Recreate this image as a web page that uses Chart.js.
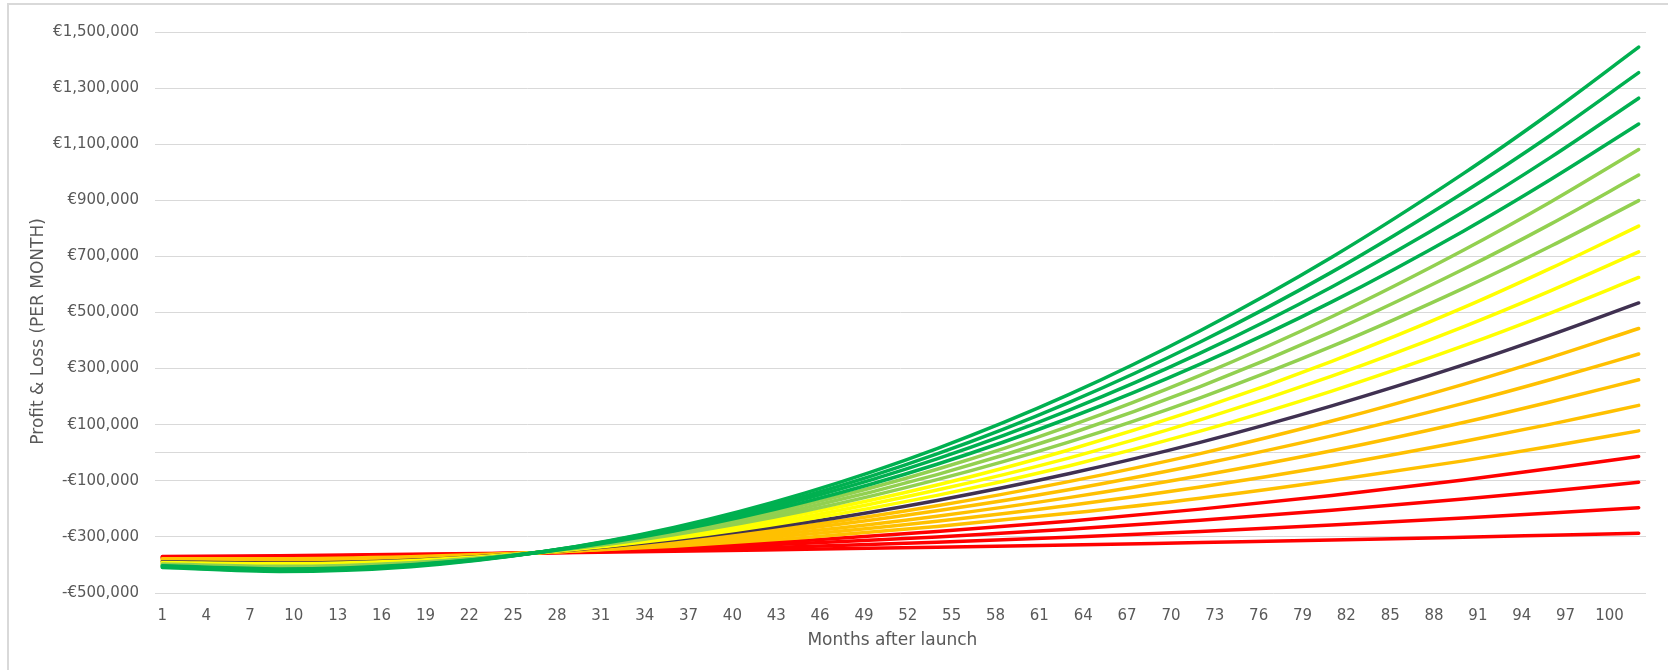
<!DOCTYPE html>
<html lang="en">
<head>
    <meta charset="UTF-8">
    <title>Profit & Loss per month</title>
    <script src="https://cdn.jsdelivr.net/npm/chart.js"></script>
    <style>
        body {
            margin: 0;
            background: white;
            overflow: hidden;
        }

        .frame {
            position: relative;
            width: 1668px;
            height: 670px;
            overflow: hidden;
        }

        .frame-border {
            position: absolute;
            left: 7px;
            top: 3px;
            width: 2000px;
            height: 2000px;
            border: 2px solid #d9d9d9;
            pointer-events: none;
        }

        canvas {
            position: absolute;
            left: 0;
            top: 0;
        }
    </style>
</head>
<body>
    <div class="frame">
        <div class="frame-border"></div>
        <canvas id="plChart" width="1668" height="670"></canvas>
    </div>

    <script>
        const months = [1, 9, 18, 27, 36, 45, 54, 63, 72, 81, 90, 96, 102];

        // x and y tick labels
        const monthTicks = [1, 4, 7, 10, 13, 16, 19, 22, 25, 28, 31, 34, 37, 40, 43, 46, 49, 52, 55, 58, 61, 64, 67, 70, 73, 76, 79, 82, 85, 88, 91, 94, 97, 100];
        const euroTicks = [-500000, -300000, -100000, 0, 100000, 300000, 500000, 700000, 900000, 1100000, 1300000, 1500000];

        // profit & loss per scenario (EUR), best to worst
        const scenario01 = [-409000, -423000, -406000, -353000, -266000, -143000, 15000, 207000, 435000, 697000, 995000, 1213000, 1446000];
        const scenario02 = [-407000, -420000, -403000, -353000, -270000, -154000, -4000, 179000, 395000, 644000, 927000, 1133000, 1355000];
        const scenario03 = [-405000, -417000, -401000, -353000, -275000, -164000, -22000, 151000, 355000, 591000, 858000, 1054000, 1264000];
        const scenario04 = [-403000, -414000, -399000, -354000, -279000, -175000, -41000, 123000, 316000, 538000, 790000, 975000, 1172000];
        const scenario05 = [-401000, -411000, -396000, -354000, -283000, -185000, -59000, 94000, 276000, 485000, 722000, 895000, 1081000];
        const scenario06 = [-399000, -408000, -394000, -354000, -288000, -196000, -78000, 66000, 236000, 432000, 654000, 816000, 990000];
        const scenario07 = [-397000, -405000, -392000, -354000, -292000, -207000, -96000, 38000, 196000, 379000, 586000, 737000, 899000];
        const scenario08 = [-395000, -402000, -389000, -354000, -297000, -217000, -115000, 10000, 157000, 326000, 517000, 658000, 808000];
        const scenario09 = [-393000, -399000, -387000, -355000, -301000, -228000, -133000, -19000, 117000, 273000, 449000, 578000, 716000];
        const scenario10 = [-391000, -396000, -385000, -355000, -306000, -238000, -152000, -47000, 77000, 220000, 381000, 499000, 625000];
        const scenario11 = [-389000, -393000, -383000, -355000, -310000, -249000, -170000, -75000, 37000, 167000, 313000, 420000, 534000];
        const scenario12 = [-387000, -390000, -380000, -355000, -315000, -260000, -189000, -103000, -3000, 113000, 244000, 340000, 443000];
        const scenario13 = [-384000, -387000, -378000, -355000, -319000, -270000, -207000, -132000, -42000, 60000, 176000, 261000, 352000];
        const scenario14 = [-382000, -384000, -376000, -356000, -324000, -281000, -226000, -160000, -82000, 7000, 108000, 182000, 260000];
        const scenario15 = [-380000, -381000, -373000, -356000, -328000, -291000, -244000, -188000, -122000, -46000, 40000, 102000, 169000];
        const scenario16 = [-378000, -378000, -371000, -356000, -333000, -302000, -263000, -216000, -162000, -99000, -29000, 23000, 78000];
        const scenario17 = [-376000, -375000, -369000, -356000, -337000, -313000, -281000, -244000, -201000, -152000, -97000, -56000, -13000];
        const scenario18 = [-374000, -372000, -367000, -356000, -342000, -323000, -300000, -273000, -241000, -205000, -165000, -136000, -105000];
        const scenario19 = [-372000, -370000, -364000, -357000, -346000, -334000, -319000, -301000, -281000, -258000, -233000, -215000, -196000];
        const scenario20 = [-370000, -367000, -362000, -357000, -351000, -344000, -337000, -329000, -320000, -311000, -301000, -294000, -287000];

        const scenarios = [
            scenario01, scenario02, scenario03, scenario04, scenario05,
            scenario06, scenario07, scenario08, scenario09, scenario10,
            scenario11, scenario12, scenario13, scenario14, scenario15,
            scenario16, scenario17, scenario18, scenario19, scenario20
        ];

        const GREEN = '#00B050';
        const LIGHT_GREEN = '#92D050';
        const YELLOW = '#FFFF00';
        const PURPLE = '#403151';
        const ORANGE = '#FFC000';
        const RED = '#FF0000';
        const lineColors = [
            GREEN, GREEN, GREEN, GREEN,
            LIGHT_GREEN, LIGHT_GREEN, LIGHT_GREEN,
            YELLOW, YELLOW, YELLOW,
            PURPLE,
            ORANGE, ORANGE, ORANGE, ORANGE, ORANGE,
            RED, RED, RED, RED
        ];

        const FONT = "'DejaVu Sans', sans-serif";
        const TEXT_GREY = '#595959';
        const GRID_GREY = '#d9d9d9';

        function formatEuro(v) {
            if (v === 0) return ''; // zero line has no label
            const s = '€' + Math.abs(v).toLocaleString('en-US');
            return v < 0 ? '-' + s : s;
        }

        const datasets = scenarios.map((values, i) => ({
            label: 'Scenario ' + (i + 1),
            data: months.map((m, j) => ({ x: m, y: values[j] })),
            borderColor: lineColors[i],
            backgroundColor: lineColors[i],
            borderWidth: 3.5,
            borderCapStyle: 'round',
            borderJoinStyle: 'round',
            pointRadius: 0,
            cubicInterpolationMode: 'monotone',
            fill: false
        }));

        new Chart(document.getElementById('plChart'), {
            type: 'line',
            data: { datasets },
            options: {
                responsive: false,
                animation: false,
                layout: {
                    padding: { top: 32, right: 22, left: 0, bottom: 0 }
                },
                plugins: {
                    legend: { display: false },
                    tooltip: { enabled: false }
                },
                scales: {
                    x: {
                        type: 'linear',
                        min: 0.5,
                        max: 102.5,
                        afterBuildTicks: axis => {
                            axis.ticks = monthTicks.map(v => ({ value: v }));
                        },
                        afterFit: axis => { axis.height = 77; },
                        grid: { display: false, drawTicks: false },
                        border: { display: false },
                        ticks: {
                            autoSkip: false,
                            maxRotation: 0,
                            padding: 14,
                            color: TEXT_GREY,
                            font: { family: FONT, size: 15 }
                        },
                        title: {
                            display: true,
                            // trailing nbsp nudges it left a little
                            text: 'Months after launch\u00A0\u00A0\u00A0',
                            color: TEXT_GREY,
                            font: { family: FONT, size: 17 },
                            padding: { top: 0, bottom: 19 }
                        }
                    },
                    y: {
                        type: 'linear',
                        min: -500000,
                        max: 1500000,
                        afterBuildTicks: axis => {
                            axis.ticks = euroTicks.map(v => ({ value: v }));
                        },
                        afterFit: axis => { axis.width = 155; },
                        grid: { color: GRID_GREY, lineWidth: 1, drawTicks: false },
                        border: { display: false },
                        ticks: {
                            padding: 16,
                            color: TEXT_GREY,
                            font: { family: FONT, size: 15 },
                            callback: v => formatEuro(v)
                        },
                        title: {
                            display: true,
                            // trailing nbsp pushes the title a bit lower, like the original
                            text: 'Profit & Loss (PER MONTH)\u00A0\u00A0\u00A0\u00A0\u00A0\u00A0\u00A0',
                            color: TEXT_GREY,
                            font: { family: FONT, size: 17 },
                            padding: { top: 28, bottom: 0 }
                        }
                    }
                }
            }
        });
    </script>
</body>
</html>
